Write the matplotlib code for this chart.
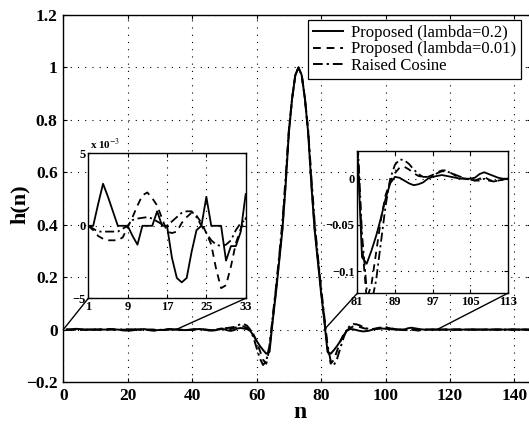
import matplotlib
matplotlib.use("Agg")
import matplotlib.pyplot as plt
import numpy as np
from matplotlib.patches import ConnectionPatch

plt.rcParams["font.family"] = ["Liberation Serif", "DejaVu Serif"]
plt.rcParams["mathtext.fontset"] = "stix"

# sample index
n = np.arange(1, 146)

# n = 1..33, read from the left zoom box (units of 1e-3)
tail_solid_e3 = [0, 0, 1.5, 2.9, 2.0, 1.0, 0, 0, 0, -0.7, -1.3, 0, 0, 0, 1.0, 0,
                 0, -2.2, -3.6, -3.9, -3.6, -1.8, -0.3, 0, 2.0, 0, 0, 0, -2.4,
                 -1.4, -1.4, -0.4, 2.2]
tail_dashed_e3 = [0, -0.3, -0.7, -0.9, -1.0, -1.0, -1.0, -0.8, -0.1, 0.6, 1.4,
                  2.1, 2.3, 1.9, 1.4, 0.5, -0.4, -0.5, -0.4, 0.2, 0.6, 0.9, 0.7,
                  0.2, -0.5, -1.3, -3.0, -4.3, -4.1, -2.8, -1.2, -0.2, 0.5]
tail_rc_e3 = [0, -0.2, -0.4, -0.4, -0.4, -0.4, -0.4, -0.2, 0.0, 0.4, 0.5, 0.55,
              0.6, 0.5, 0.3, 0.1, 0.0, 0.3, 0.6, 0.9, 1.0, 1.0, 0.6, 0.0, -0.5,
              -1.0, -1.3, -1.4, -1.3, -1.0, -0.3, 0.2, 0.4]

# n = 34..113
mid_solid = [0.001, 0.0, -0.001, -0.002, -0.002, -0.001, 0.0, 0.001, 0.002,
             0.001, -0.001, -0.003, -0.004, -0.003, 0.0, 0.002, 0.001, -0.003,
             -0.005, -0.002, 0.004, 0.006, 0.004,
             0.002, -0.005, -0.022, -0.043, -0.062, -0.078, -0.092, -0.085,
             0.035, 0.14, 0.26, 0.38, 0.55, 0.75, 0.88, 0.97, 1.0, 0.97, 0.88,
             0.75, 0.55, 0.38, 0.26, 0.14, 0.035, -0.085, -0.092, -0.078,
             -0.062, -0.043, -0.022, -0.005, 0.002,
             0.001, -0.002, -0.005, -0.007, -0.006, -0.004, 0.0, 0.002, 0.003,
             0.004, 0.003, 0.002, 0.001, 0.0, 0.0, 0.0, 0.001, 0.005, 0.007,
             0.005, 0.003, 0.001, 0.0, 0.0]
mid_dashed = [0.001, 0.001, 0.0, -0.001, -0.002, -0.002, -0.001, 0.001, 0.002,
              0.002, 0.0, -0.002, -0.003, -0.002, 0.001, 0.004, 0.003, 0.0,
              0.002, 0.006, 0.010, 0.013, 0.012,
              0.006, -0.003, -0.018, -0.045, -0.08, -0.115, -0.13, -0.07, 0.04,
              0.15, 0.27, 0.39, 0.56, 0.75, 0.88, 0.97, 1.0, 0.97, 0.88, 0.75,
              0.56, 0.39, 0.27, 0.15, 0.04, -0.07, -0.13, -0.115, -0.08,
              -0.045, -0.018, -0.003, 0.006,
              0.012, 0.013, 0.01, 0.006, 0.003, 0.002, 0.002, 0.004, 0.007,
              0.009, 0.009, 0.006, 0.003, 0.001, 0.0, -0.001, -0.002, 0.0,
              0.002, -0.001, -0.003, -0.002, -0.001, 0.0]
mid_rc = [0.0, 0.0, -0.001, -0.002, -0.002, -0.001, 0.0, 0.001, 0.002, 0.001,
          0.0, -0.001, -0.002, -0.002, 0.0, 0.003, 0.005, 0.006, 0.008, 0.01,
          0.016, 0.02, 0.021,
          0.015, 0.0, -0.03, -0.07, -0.11, -0.135, -0.12, -0.06, 0.05, 0.16,
          0.28, 0.41, 0.58, 0.76, 0.88, 0.97, 1.0, 0.97, 0.88, 0.76, 0.58,
          0.41, 0.28, 0.16, 0.05, -0.06, -0.12, -0.135, -0.11, -0.07, -0.03,
          0.0, 0.015,
          0.021, 0.02, 0.016, 0.01, 0.005, 0.002, 0.002, 0.003, 0.006, 0.008,
          0.008, 0.006, 0.004, 0.002, 0.0, -0.001, -0.002, -0.002, 0.0,
          -0.002, -0.003, -0.002, -0.001, 0.0]

# n = 114..145, flat
end_tail = [0.0] * 32

h_solid = np.concatenate([np.array(tail_solid_e3) * 1e-3, mid_solid, end_tail])
h_dashed = np.concatenate([np.array(tail_dashed_e3) * 1e-3, mid_dashed, end_tail])
h_rc = np.concatenate([np.array(tail_rc_e3) * 1e-3, mid_rc, end_tail])

labels = ["Proposed (lambda=0.2)", "Proposed (lambda=0.01)", "Raised Cosine"]
styles = [dict(linestyle="-"), dict(dashes=(4, 3)), dict(dashes=(5, 2, 1.2, 2))]
series = [h_solid, h_dashed, h_rc]

W, H = 529, 425
fig = plt.figure(figsize=(W / 100, H / 100), dpi=100)


def px_axes(left, top, right, bottom):
    return fig.add_axes([left / W, 1 - bottom / H, (right - left) / W, (bottom - top) / H])


def style_axes(ax, size, pad):
    ax.tick_params(direction="in", top=True, right=True, labelsize=size,
                   pad=pad, length=3, width=0.8)
    for lab in ax.get_xticklabels() + ax.get_yticklabels():
        lab.set_fontweight("bold")
    for sp in ax.spines.values():
        sp.set_linewidth(1.0)
    ax.grid(True, color="k", linewidth=0.8, dashes=(1, 5.5))


ax = px_axes(63.3, 15, 530.5, 382)
lines = []
for y, lab, st in zip(series, labels, styles):
    (ln,) = ax.plot(n, y, color="k", linewidth=1.4, label=lab, **st)
    lines.append(ln)
ax.set_xlim(0, 145)
ax.set_ylim(-0.2, 1.2)
ax.set_xticks(np.arange(0, 141, 20))
ax.set_yticks(np.arange(-0.2, 1.21, 0.2))
ax.set_yticklabels(["\u22120.2", "0", "0.2", "0.4", "0.6", "0.8", "1", "1.2"])
style_axes(ax, 12.5, 4)

fig.text(300 / W, 1 - 418 / H, "n", ha="center", va="baseline",
         fontsize=17, fontweight="bold")
fig.text(19.5 / W, 1 - 204 / H, "h(n)", ha="center", va="center",
         rotation=90, fontsize=16, fontweight="bold")

leg = fig.legend(handles=lines, loc="upper left",
                 bbox_to_anchor=(307.7 / W, 1 - 19.6 / H), borderaxespad=0,
                 fontsize=12, handlelength=1.8, handletextpad=0.5,
                 labelspacing=0.05, borderpad=0.3, fancybox=False,
                 framealpha=1, edgecolor="k")
leg.get_frame().set_linewidth(0.9)

# left zoom box, n = 1..33
axl = px_axes(88.3, 153.3, 245.7, 298.3)
for y, st in zip(series, styles):
    axl.plot(n, y, color="k", linewidth=1.3, **st)
axl.set_xlim(1, 33)
axl.set_ylim(-5e-3, 5e-3)
axl.set_xticks([1, 9, 17, 25, 33])
axl.set_yticks([-5e-3, 0, 5e-3])
axl.set_yticklabels(["\u22125", "0", "5"])
style_axes(axl, 9, 2)
axl.text(0.01, 1.01, "x 10$^{-3}$", transform=axl.transAxes, fontsize=8,
         fontweight="bold", va="bottom", ha="left")

# right zoom box, n = 81..113
axr = px_axes(357.3, 151, 507.7, 293.3)
for y, st in zip(series, styles):
    axr.plot(n, y, color="k", linewidth=1.3, **st)
axr.set_xlim(81, 113)
axr.set_ylim(-0.124, 0.03)
axr.set_xticks([81, 89, 97, 105, 113])
axr.set_yticks([-0.1, -0.05, 0])
axr.set_yticklabels(["\u22120.1", "\u22120.05", "0"])
style_axes(axr, 9, 2)

# lines from the main curve to the zoom boxes
for xa, inset, corner in [(0, axl, (0, 0)), (35, axl, (1, 0)),
                          (81, axr, (0, 0)), (116, axr, (1, 0))]:
    con = ConnectionPatch(xyA=(xa, 0), coordsA=ax.transData, xyB=corner,
                          coordsB=inset.transAxes, color="k", linewidth=1.0)
    fig.add_artist(con)

fig.savefig("out.png", dpi=100)
